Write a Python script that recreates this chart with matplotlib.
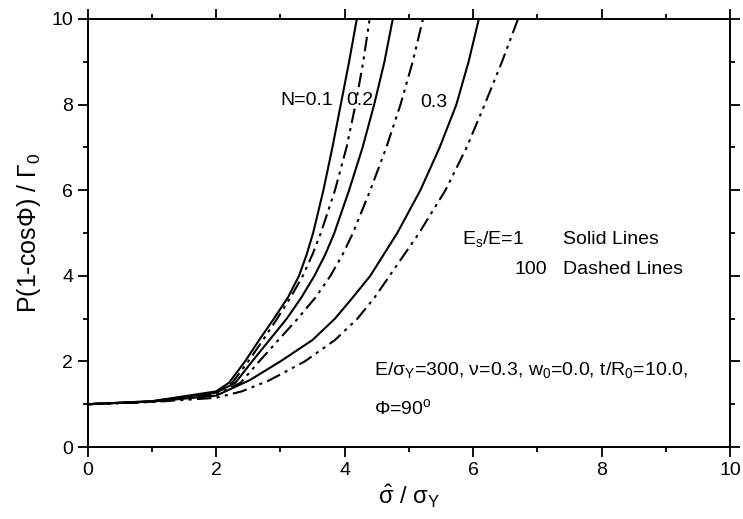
import matplotlib
matplotlib.use("Agg")
import matplotlib.pyplot as plt
from matplotlib.ticker import MultipleLocator

plt.rcParams['font.family'] = ['Liberation Sans', 'DejaVu Sans']
plt.rcParams['mathtext.fontset'] = 'custom'
plt.rcParams['mathtext.rm'] = 'Liberation Sans'
plt.rcParams['mathtext.it'] = 'Liberation Sans'
plt.rcParams['mathtext.default'] = 'regular'

# Es/E = 1 (solid lines)
x01_s = [0, 1, 2, 2.2, 2.45, 2.67, 2.9, 3.12, 3.29, 3.41, 3.51, 3.67, 3.81, 3.94, 4.07, 4.19]
y01_s = [1.0, 1.07, 1.3, 1.5, 2.0, 2.5, 3.0, 3.5, 4.0, 4.5, 5.0, 6.0, 7.0, 8.0, 9.0, 10]
x02_s = [0, 1, 2, 2.3, 2.56, 2.83, 3.1, 3.33, 3.53, 3.7, 3.84, 4.07, 4.28, 4.46, 4.62, 4.75]
y02_s = [1.0, 1.07, 1.27, 1.5, 2.0, 2.5, 3.0, 3.5, 4.0, 4.5, 5.0, 6.0, 7.0, 8.0, 9.0, 10]
x03_s = [0, 1, 2, 2.52, 3.0, 3.5, 3.85, 4.13, 4.4, 4.82, 5.18, 5.48, 5.74, 5.93, 6.09]
y03_s = [1.0, 1.06, 1.2, 1.56, 2.0, 2.5, 3.0, 3.5, 4.0, 5.0, 6.0, 7.0, 8.0, 9.0, 10]

# Es/E = 100 (dashed lines)
x01_d = [0, 1, 2, 2.25, 2.5, 2.73, 2.95, 3.16, 3.35, 3.5, 3.63, 3.85, 4.03, 4.17, 4.29, 4.39]
y01_d = [1.0, 1.06, 1.25, 1.5, 2.0, 2.5, 3.0, 3.5, 4.0, 4.5, 5.0, 6.0, 7.0, 8.0, 9.0, 10]
x02_d = [0, 1, 2, 2.38, 2.67, 2.97, 3.27, 3.55, 3.78, 3.97, 4.13, 4.4, 4.65, 4.87, 5.06, 5.22]
y02_d = [1.0, 1.06, 1.22, 1.5, 2.0, 2.5, 3.0, 3.5, 4.0, 4.5, 5.0, 6.0, 7.0, 8.0, 9.0, 10]
x03_d = [0, 1, 2, 2.4, 2.83, 3.38, 3.85, 4.2, 4.47, 4.7, 5.16, 5.57, 5.9, 6.18, 6.45, 6.70]
y03_d = [1.0, 1.05, 1.15, 1.3, 1.56, 2.0, 2.5, 3.0, 3.5, 4.0, 5.0, 6.0, 7.0, 8.0, 9.0, 10]

fig = plt.figure(figsize=(7.43, 5.19), dpi=100)
ax = fig.add_axes([0.118, 0.1387, 0.8645, 0.8247])

dd = (7, 2.5, 1.5, 2.5, 1.5, 2.5)
for xs, ys in [(x01_s, y01_s), (x02_s, y02_s), (x03_s, y03_s)]:
    ax.plot(xs, ys, color='black', lw=1.5)
for xs, ys in [(x01_d, y01_d), (x02_d, y02_d), (x03_d, y03_d)]:
    ax.plot(xs, ys, color='black', lw=1.5, dashes=dd)

ax.set_xlim(0, 10)
ax.set_ylim(0, 10)
ax.xaxis.set_major_locator(MultipleLocator(2))
ax.xaxis.set_minor_locator(MultipleLocator(1))
ax.yaxis.set_major_locator(MultipleLocator(2))
ax.yaxis.set_minor_locator(MultipleLocator(1))
ax.tick_params(which='both', direction='out', top=True, right=True,
               width=1.3, labelsize=14, colors='black')
ax.tick_params(which='major', length=7)
ax.tick_params(which='minor', length=3.5)
for s in ax.spines.values():
    s.set_linewidth(1.4)

ax.set_xlabel(r'$\hat{\sigma}$ / $\sigma_Y$', fontsize=17, labelpad=3)
ax.set_ylabel(r'P(1-cos$\Phi$) / $\Gamma_0$', fontsize=18, labelpad=6)

ax.text(3.0, 8.1, 'N=0.1', fontsize=14, va='center')
ax.text(4.03, 8.1, '0.2', fontsize=14, va='center')
ax.text(5.17, 8.05, '0.3', fontsize=14, va='center')

ax.text(5.83, 4.85, r'E$_s$/E=1', fontsize=14, va='center')
ax.text(7.4, 4.85, 'Solid Lines', fontsize=14, va='center')
ax.text(6.65, 4.15, '100', fontsize=14, va='center')
ax.text(7.4, 4.15, 'Dashed Lines', fontsize=14, va='center')

ax.text(4.45, 1.8, r'E/$\sigma_Y$=300, $\nu$=0.3, w$_0$=0.0, t/R$_0$=10.0,',
        fontsize=14, va='center')
ax.text(4.45, 0.92, r'$\Phi$=90$^o$', fontsize=14, va='center')

fig.savefig('out.png', dpi=100)
